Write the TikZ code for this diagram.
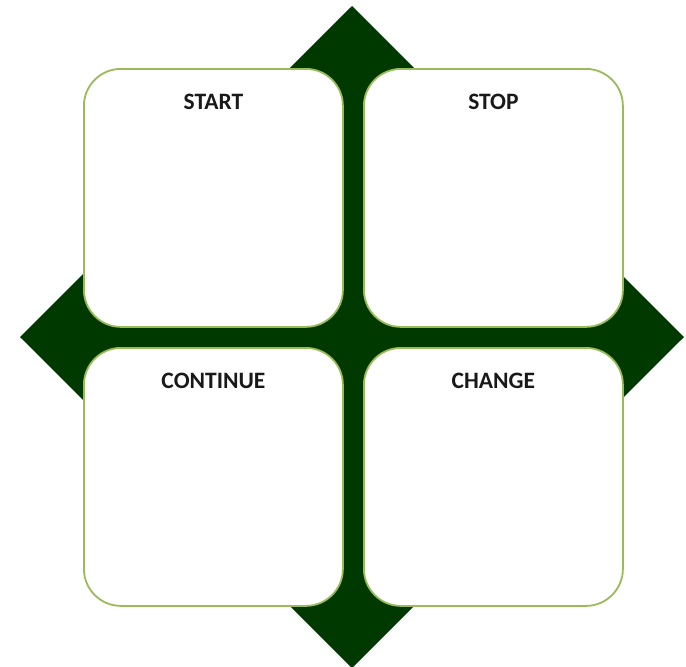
\documentclass[tikz,border=0pt]{standalone}
\usepackage{fontspec}
\setmainfont{Carlito}
\definecolor{dkgreen}{RGB}{0,57,0}
\definecolor{ltgreen}{RGB}{155,187,89}
\tikzset{
  card/.style={draw=ltgreen, line width=1.8pt, fill=white, rounded corners=37pt,
    minimum width=259pt, minimum height=258pt, inner sep=0pt, anchor=north west},
  cardtitle/.style={font=\bfseries\fontsize{23.5}{26}\selectfont, text=black!90, anchor=center}
}
\begin{document}
\begin{tikzpicture}[x=1pt,y=-1pt]
\useasboundingbox (0,0) rectangle (686,667);
\fill[dkgreen] (352,6) -- (684,337) -- (352,668) -- (20,337) -- cycle;
\node[card] (start) at (83,68) {};
\node[card] (stop) at (363,68) {};
\node[card] (cont) at (83,347) {};
\node[card] (change) at (363,347) {};
\node[cardtitle] (tstart) at ([yshift=-34pt]start.north) {START};
\node[cardtitle] (tstop) at ([yshift=-34pt]stop.north) {STOP};
\node[cardtitle] (tcont) at ([yshift=-34pt]cont.north) {CONTINUE};
\node[cardtitle] (tchange) at ([yshift=-34pt]change.north) {CHANGE};
\end{tikzpicture}
\end{document}
